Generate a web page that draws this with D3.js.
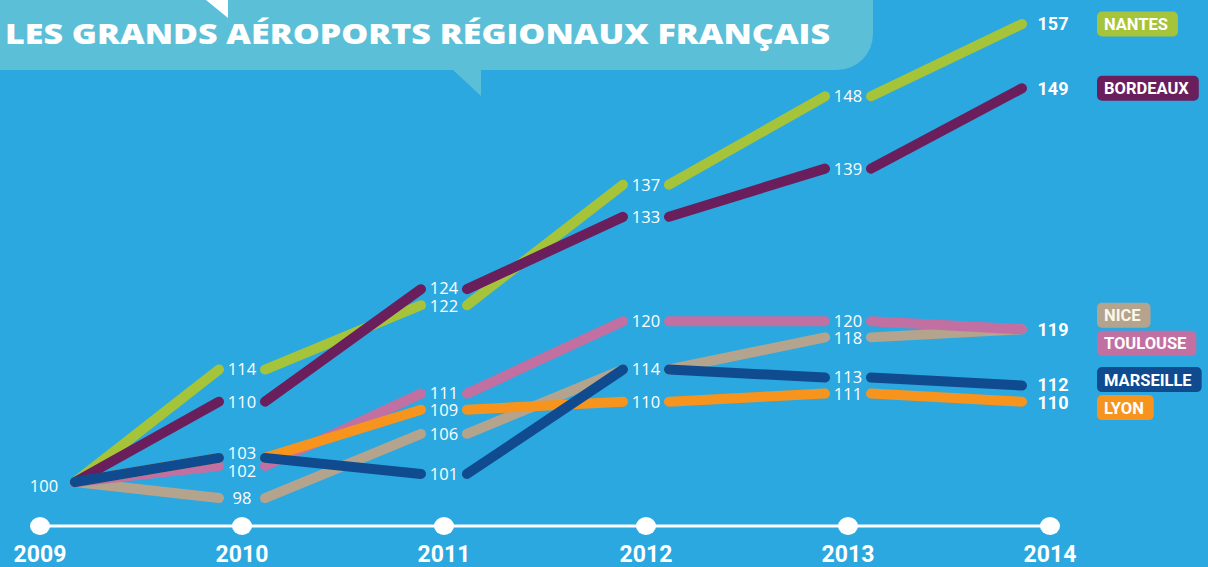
<!DOCTYPE html>
<html><head><meta charset="utf-8">
<script src="https://cdn.jsdelivr.net/npm/d3@7"></script>
<style>
html,body{margin:0;padding:0;background:#2ba8e0;}
svg{display:block;}
</style></head>
<body>
<svg id="chart" width="1208" height="567"></svg>
<script>
const title = "LES GRANDS AÉROPORTS RÉGIONAUX FRANÇAIS";
const years = [2009, 2010, 2011, 2012, 2013, 2014];
const seriesNames = ["NICE", "TOULOUSE", "LYON", "NANTES", "BORDEAUX", "MARSEILLE"];
const nice      = [100,  98, 106, 114, 118, 119];
const toulouse  = [100, 102, 111, 120, 120, 119];
const lyon      = [100, 103, 109, 110, 111, 110];
const nantes    = [100, 114, 122, 137, 148, 157];
const bordeaux  = [100, 110, 124, 133, 139, 149];
const marseille = [100, 103, 101, 114, 113, 112];
const colors = ["#b4a48e", "#c270a2", "#f7941d", "#a5c43a", "#6a1e5c", "#0f4b8e"];

const seriesValues = [nice, toulouse, lyon, nantes, bordeaux, marseille];
const series = seriesNames.map((n, i) => ({name: n, values: seriesValues[i], color: colors[i]}));

const W = 1208, H = 567;
const svg = d3.select("#chart");
svg.append("rect").attr("width", W).attr("height", H).attr("fill", "#2ba8e0");

// Title banner
const banner = svg.append("g");
banner.append("rect").attr("x", -40).attr("y", -40).attr("width", 913).attr("height", 110)
  .attr("rx", 36).attr("fill", "#5cbfd8");
banner.append("path").attr("d", "M452,69 L481,69 L481,96 Z").attr("fill", "#5cbfd8");
banner.append("path").attr("d", "M206,0 L228,0 L228,18 Z").attr("fill", "#ffffff");
banner.append("text").attr("x", 5).attr("y", 44)
  .attr("font-family", "'Open Sans', Roboto, sans-serif").attr("font-weight", 800)
  .attr("font-size", 29).attr("fill", "#ffffff")
  .attr("textLength", 825).attr("lengthAdjust", "spacingAndGlyphs")
  .text(title);

const x = d3.scaleLinear().domain([2009, 2014]).range([40, 1050]);
const y = d3.scaleLinear().domain([100, 157]).range([482, 24]);

// Year axis
const axisY = 526;
svg.append("line").attr("x1", x(2009)).attr("x2", x(2014)).attr("y1", axisY).attr("y2", axisY)
  .attr("stroke", "#ffffff").attr("stroke-width", 3);
svg.selectAll("ellipse.dot").data(years).join("ellipse").attr("class", "dot")
  .attr("cx", d => x(d)).attr("cy", axisY).attr("rx", 10).attr("ry", 9).attr("fill", "#ffffff");
svg.selectAll("text.year").data(years).join("text").attr("class", "year")
  .attr("x", d => x(d)).attr("y", 562).attr("text-anchor", "middle")
  .attr("font-family", "Roboto, sans-serif").attr("font-weight", 700).attr("font-size", 23)
  .attr("fill", "#ffffff").text(d => d);

// Lines as separate segments with gaps around labels
const last = years.length - 1;
const segs = [];
series.forEach(s => {
  for (let i = 0; i < last; i++) {
    const x1 = i === 0 ? x(years[0]) + 35 : x(years[i]) + 23;
    const x2 = i + 1 === last ? x(years[i + 1]) - 28 : x(years[i + 1]) - 23;
    segs.push({s, x1, y1: y(s.values[i]), x2, y2: y(s.values[i + 1])});
  }
});
svg.append("g").selectAll("line").data(segs).join("line")
  .attr("x1", d => d.x1).attr("y1", d => d.y1).attr("x2", d => d.x2).attr("y2", d => d.y2)
  .attr("stroke", d => d.s.color).attr("stroke-width", 10).attr("stroke-linecap", "round");

// Value labels (one per distinct value per year), nudged apart when too close
const labels = [];
years.forEach((yr, i) => {
  const seen = new Set();
  const col = [];
  series.forEach(s => {
    const v = s.values[i];
    if (seen.has(v)) return;
    seen.add(v);
    col.push({i, v, ly: y(v)});
  });
  col.sort((a, b) => a.ly - b.ly);
  const gap = 17.5;
  for (let it = 0; it < 6; it++) {
    for (let k = 1; k < col.length; k++) {
      if (col[k].ly - col[k - 1].ly < gap) {
        const mid = (col[k].ly + col[k - 1].ly) / 2;
        col[k - 1].ly = mid - gap / 2;
        col[k].ly = mid + gap / 2;
      }
    }
  }
  labels.push(...col);
});
svg.append("g").selectAll("text").data(labels).join("text")
  .attr("x", d => d.i === 0 ? x(years[0]) + 4 : (d.i === last ? x(years[last]) + 3 : x(years[d.i])))
  .attr("y", d => d.i === 0 ? d.ly + 4 : d.ly)
  .attr("dy", "0.36em").attr("text-anchor", "middle")
  .attr("font-family", d => d.i === last ? "Roboto, sans-serif" : "'Open Sans', sans-serif")
  .attr("font-weight", d => d.i === last ? 700 : 400)
  .attr("font-size", d => d.i === last ? 18 : 16.5)
  .attr("fill", "#ffffff").text(d => d.v);

// Legend badges at the right, de-overlapped
const badges = series.map((s, k) => ({s, k, cy: y(s.values[last])}))
  .sort((a, b) => a.cy - b.cy || a.k - b.k);
const minGap = 28;
for (let iter = 0; iter < 10; iter++) {
  for (let i = 1; i < badges.length; i++) {
    if (badges[i].cy - badges[i - 1].cy < minGap) {
      const mid = (badges[i].cy + badges[i - 1].cy) / 2;
      badges[i - 1].cy = mid - minGap / 2;
      badges[i].cy = mid + minGap / 2;
    }
  }
}
const bg = svg.append("g").selectAll("g").data(badges).join("g");
bg.append("text").attr("x", 1104).attr("y", d => d.cy).attr("dy", "0.36em")
  .attr("font-family", "Roboto, sans-serif").attr("font-weight", 700).attr("font-size", 16.5)
  .attr("fill", d => d.s.name === "NICE" ? "#fbf6ea" : "#ffffff").text(d => d.s.name);
bg.each(function(d) {
  const g = d3.select(this);
  const w = g.select("text").node().getComputedTextLength();
  g.insert("rect", "text").attr("x", 1097).attr("y", d.cy - 12.5).attr("width", w + 17).attr("height", 25)
    .attr("rx", 5).attr("fill", d.s.color);
});
</script>
</body></html>
